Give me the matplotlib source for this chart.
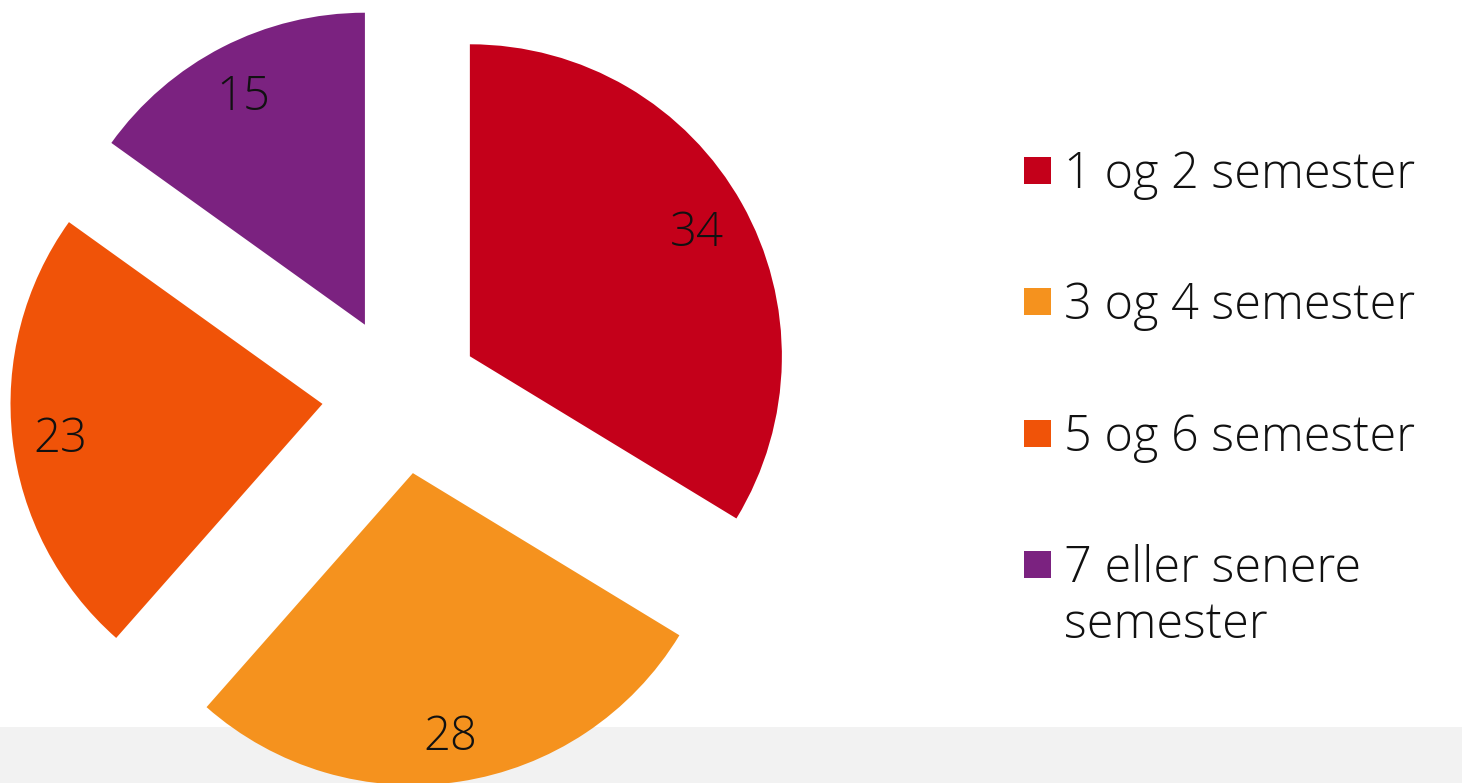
import matplotlib
matplotlib.use("Agg")
import matplotlib.pyplot as plt
from matplotlib.patches import Rectangle

# data (shares in %, labels shown rounded)
categories = ["1 og 2 semester", "3 og 4 semester", "5 og 6 semester", "7 eller senere\nsemester"]
values = [33.7, 27.8, 23.4, 15.1]
colors = ["#C4001A", "#F5921E", "#F05308", "#7B2280"]

W, H = 1462, 783
fig = plt.figure(figsize=(W / 100, H / 100), dpi=100)
ax = fig.add_axes([0, 0, 1, 1])

font = dict(family=["Open Sans", "DejaVu Sans"], fontweight="light", color="#111111")

# light grey band at the bottom
ax.axhspan(0, H - 727, color="#F2F2F2", zorder=0, lw=0)

# explode is in data units here (pixels)
wedges, texts, autotexts = ax.pie(
    values, colors=colors, startangle=90, counterclock=False,
    explode=[79] * 4, radius=312, center=(401, H - 395),
    autopct=lambda p: f"{p:.0f}", pctdistance=0.84,
    wedgeprops=dict(linewidth=0), frame=True,
)
for t in autotexts:
    t.set_fontsize(34)
    t.set(**font)
    x, y = t.get_position()
    t.set_position((x - 2, y - 6))

# legend drawn by hand
row_y = [170, 301, 433, 564]
for i, (lab, col) in enumerate(zip(categories, colors)):
    yc = H - row_y[i]
    ax.add_patch(Rectangle((1024, yc - 13.5), 27, 27, color=col, lw=0))
    for j, line in enumerate(lab.split("\n")):
        ax.text(1064, yc - 18 - 56 * j, line, fontsize=35, va="baseline",
                ha="left", **font)

ax.set_xlim(0, W)
ax.set_ylim(0, H)
ax.set_aspect("auto")
ax.axis("off")

fig.savefig("out.png", dpi=100)
